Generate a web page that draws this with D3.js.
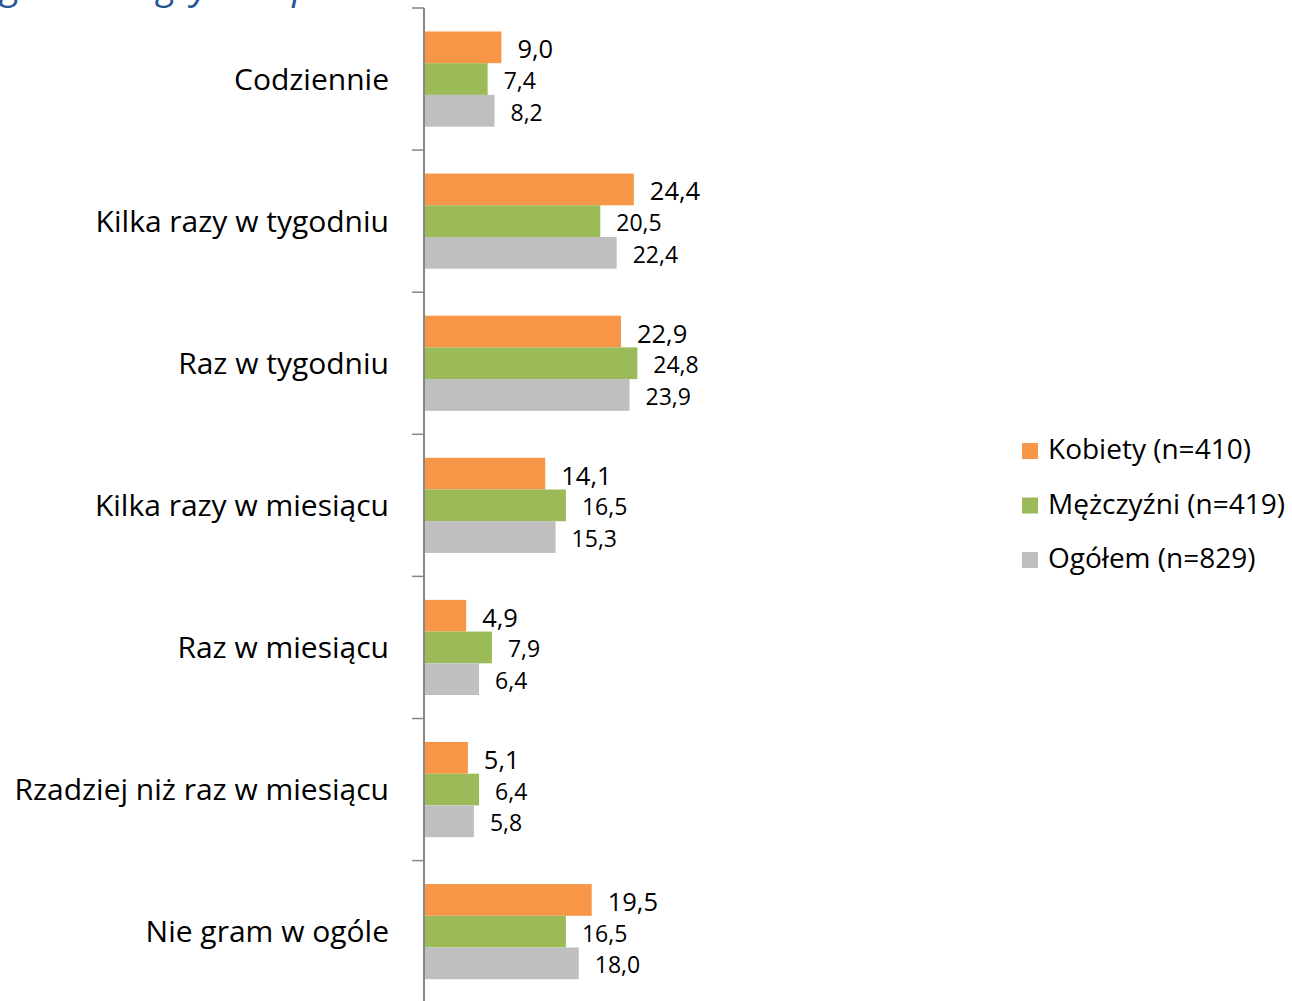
<!DOCTYPE html>
<html>
<head>
<meta charset="utf-8">
<script src="https://cdn.jsdelivr.net/npm/d3@7"></script>
<style>
  html, body { margin: 0; padding: 0; background: #fff; overflow: hidden; }
  svg { display: block; }
  text { font-family: "Open Sans", "Noto Sans", sans-serif; fill: #000; }
</style>
</head>
<body>
<svg id="chart" width="1292" height="1001"></svg>
<script>
// How often people play games, by sex (percent)
const categories = [
  "Codziennie",
  "Kilka razy w tygodniu",
  "Raz w tygodniu",
  "Kilka razy w miesiącu",
  "Raz w miesiącu",
  "Rzadziej niż raz w miesiącu",
  "Nie gram w ogóle"
];
const seriesNames = ["Kobiety (n=410)", "Mężczyźni (n=419)", "Ogółem (n=829)"];
const kobiety    = [9.0, 24.4, 22.9, 14.1, 4.9, 5.1, 19.5];
const mezczyzni  = [7.4, 20.5, 24.8, 16.5, 7.9, 6.4, 16.5];
const ogolem     = [8.2, 22.4, 23.9, 15.3, 6.4, 5.8, 18.0];
const seriesColors = ["#F79646", "#9BBB59", "#BFBFBF"];
const labelSizes = [25.5, 23, 23];
const titleText = "Częstotliwość grania w gry komputerowe";

const seriesValues = [kobiety, mezczyzni, ogolem];
const rows = categories.map((c, i) => ({
  category: c,
  values: seriesNames.map((s, j) => ({
    series: s, value: seriesValues[j][i], color: seriesColors[j], size: labelSizes[j]
  }))
}));

const svg = d3.select("#chart");
const axisX = 424;
const bandTop = 8;
const bandStep = 142.1;

const x = d3.scaleLinear().domain([0, 1]).range([axisX, axisX + 8.6]);
const y0 = d3.scaleBand()
  .domain(categories)
  .range([bandTop, bandTop + bandStep * categories.length])
  .paddingInner(0).paddingOuter(0);
const y1 = d3.scaleBand()
  .domain(seriesNames)
  .range([0, y0.bandwidth()])
  .paddingInner(0).paddingOuter(0.74);

const fmt = v => d3.format(".1f")(v).replace(".", ",");

// Title (runs off the top edge)
const title = svg.append("text")
  .attr("y", -1)
  .style("font-size", "38px")
  .style("font-style", "italic")
  .style("fill", "#2A5597")
  .text(titleText);
{
  const node = title.node();
  const gIdx = titleText.indexOf("grania");
  const off = node.getSubStringLength(0, gIdx);
  title.attr("x", 1 - off);
}

// Bars
const groups = svg.append("g").selectAll("g")
  .data(rows).join("g")
  .attr("transform", d => `translate(0,${y0(d.category)})`);

groups.selectAll("rect")
  .data(d => d.values).join("rect")
  .attr("x", x(0) + 1)
  .attr("y", d => y1(d.series))
  .attr("width", d => x(d.value) - x(0) - 1)
  .attr("height", y1.bandwidth())
  .attr("fill", d => d.color);

groups.selectAll("text.val")
  .data(d => d.values).join("text")
  .attr("class", "val")
  .attr("x", d => x(d.value) + 16)
  .attr("y", d => y1(d.series) + y1.bandwidth() / 2 + 1)
  .attr("dominant-baseline", "central")
  .style("font-size", d => d.size + "px")
  .text(d => fmt(d.value));

// Category axis
const axis = d3.axisLeft(y0).tickSize(0).tickPadding(35);
const axisG = svg.append("g")
  .attr("transform", `translate(${axisX},0)`)
  .call(axis);
axisG.select(".domain").remove();
axisG.selectAll(".tick text")
  .attr("dy", null)
  .attr("dominant-baseline", "central")
  .attr("y", -1)
  .style("font-size", "30px")
  .style("font-family", "'Open Sans', 'Noto Sans', sans-serif")
  .style("fill", "#000");

svg.append("line")
  .attr("x1", axisX).attr("x2", axisX)
  .attr("y1", bandTop).attr("y2", 1001)
  .attr("stroke", "#868686").attr("stroke-width", 2);

const tickYs = d3.range(categories.length + 1).map(i => bandTop + i * bandStep);
svg.append("g").selectAll("line")
  .data(tickYs).join("line")
  .attr("x1", axisX - 12).attr("x2", axisX)
  .attr("y1", d => d).attr("y2", d => d)
  .attr("stroke", "#868686").attr("stroke-width", 1.5);

// Legend
const legend = svg.append("g").selectAll("g")
  .data(seriesNames).join("g")
  .attr("transform", (d, i) => `translate(1022,${443 + i * 54.5})`);
legend.append("rect")
  .attr("width", 16).attr("height", 16)
  .attr("fill", (d, i) => seriesColors[i]);
legend.append("text")
  .attr("x", 26).attr("y", 16)
  .style("font-size", "28px")
  .text(d => d);
</script>
</body>
</html>
